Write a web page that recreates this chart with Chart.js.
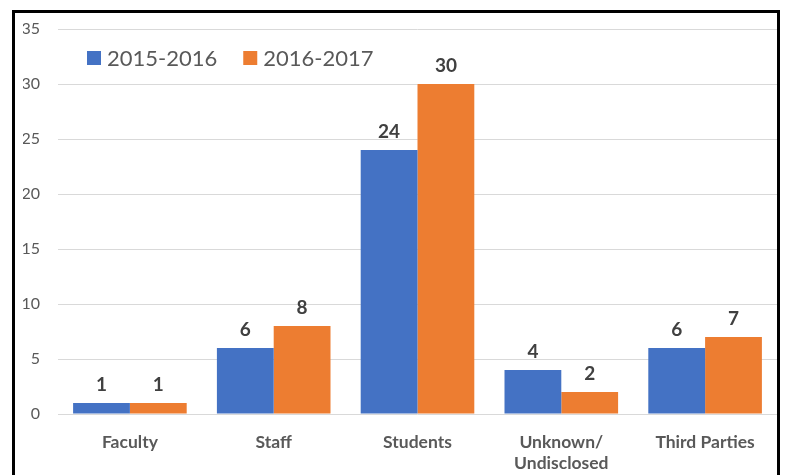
<!DOCTYPE html>
<html>
<head>
<meta charset="utf-8">
<script src="https://cdn.jsdelivr.net/npm/chart.js@4.4.1/dist/chart.umd.min.js"></script>
<style>
  html, body { margin: 0; padding: 0; background: #fff; }
  #wrap { position: relative; width: 787px; height: 475px; }
</style>
</head>
<body>
<div id="wrap"><canvas id="myChart" width="787" height="475"></canvas></div>
<script>
const categories = ["Faculty", "Staff", "Students", ["Unknown/", "Undisclosed"], "Third Parties"];
const seriesNames = ["2015-2016", "2016-2017"];
const values2015 = [1, 6, 24, 4, 6];
const values2016 = [1, 8, 30, 2, 7];
const yTicks = [0, 5, 10, 15, 20, 25, 30, 35];

const FONT = "Lato, 'Open Sans', sans-serif";

// value labels drawn above each bar
const barLabels = {
  id: 'barLabels',
  afterDatasetsDraw(chart) {
    const ctx = chart.ctx;
    ctx.save();
    ctx.font = "bold 19px " + FONT;
    ctx.fillStyle = '#404040';
    ctx.textAlign = 'center';
    ctx.textBaseline = 'bottom';
    chart.data.datasets.forEach((ds, i) => {
      chart.getDatasetMeta(i).data.forEach((bar, j) => {
        ctx.fillText(ds.data[j], bar.x, bar.y - 9);
      });
    });
    ctx.restore();
  }
};

// one-row legend sitting inside the plot, top left
const insideLegend = {
  id: 'insideLegend',
  afterDraw(chart) {
    const ctx = chart.ctx;
    const area = chart.chartArea;
    let x = area.left + 29;
    const y = area.top + 29;
    ctx.save();
    ctx.font = "22px " + FONT;
    ctx.textBaseline = 'middle';
    ctx.textAlign = 'left';
    chart.data.datasets.forEach(ds => {
      ctx.fillStyle = ds.backgroundColor;
      ctx.fillRect(x, y - 7, 14, 14);
      ctx.fillStyle = '#595959';
      ctx.fillText(ds.label, x + 20, y + 1);
      x += 20 + ctx.measureText(ds.label).width + 26;
    });
    ctx.restore();
  }
};

// black frame around the figure
const frame = {
  id: 'frame',
  afterDraw(chart) {
    const ctx = chart.ctx;
    ctx.save();
    ctx.strokeStyle = '#000';
    ctx.lineWidth = 3;
    ctx.strokeRect(13.5, 11.5, 765, 500);
    ctx.restore();
  }
};

new Chart(document.getElementById('myChart').getContext('2d'), {
  type: 'bar',
  data: {
    labels: categories,
    datasets: [{
      label: seriesNames[0],
      data: values2015,
      backgroundColor: '#4472C4'
    }, {
      label: seriesNames[1],
      data: values2016,
      backgroundColor: '#ED7D31'
    }]
  },
  options: {
    responsive: false,
    animation: false,
    layout: { padding: { left: 23, top: 29, right: 10, bottom: 0 } },
    datasets: { bar: { categoryPercentage: 0.79, barPercentage: 1 } },
    plugins: {
      tooltip: { enabled: false },
      legend: { display: false }
    },
    scales: {
      x: {
        grid: { display: false },
        border: { display: false },
        ticks: {
          padding: 9,
          color: '#595959',
          font: { family: FONT, size: 17.5, weight: 'bold', lineHeight: 1.25 },
          maxRotation: 0
        },
        afterFit(scale) { scale.height = 61; }
      },
      y: {
        min: 0,
        max: 35,
        afterBuildTicks(scale) { scale.ticks = yTicks.map(v => ({ value: v })); },
        grid: { color: '#d9d9d9', lineWidth: 1, drawTicks: false },
        border: { display: false },
        ticks: {
          padding: 18,
          color: '#595959',
          font: { family: FONT, size: 16 }
        },
        afterFit(scale) { scale.width = 35; }
      }
    }
  },
  plugins: [barLabels, insideLegend, frame]
});
</script>
</body>
</html>
